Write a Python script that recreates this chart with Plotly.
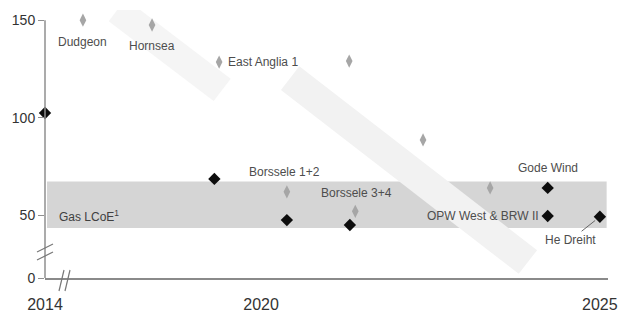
import plotly.graph_objects as go

# ---------------- data ----------------
# light grey diamonds (auction results / bids)
grey_years = [2017.37, 2018.39, 2019.38, 2021.30, 2022.39, 2020.38, 2021.39, 2023.38]
grey_values = [150, 147.5, 128.5, 129, 88.6, 62, 52, 64]
grey_labels = ["Dudgeon", "Hornsea", "East Anglia 1", "", "", "Borssele 1+2", "Borssele 3+4", ""]

# black diamonds
black_years = [2014, 2019.31, 2020.38, 2021.31, 2024.23, 2024.23, 2025.0]
black_values = [102.4, 68.6, 47.5, 45.0, 64.0, 49.6, 49.2]
black_labels = ["", "", "", "", "Gode Wind", "OPW West & BRW II", "He Dreiht"]

# gas LCoE band
gas_low = 43.4
gas_high = 67.3
gas_label = "Gas LCoE<sup>1</sup>"

# axes (broken axes: 2014 sits at the axis start, 0 sits at the bottom)
x_tick_years = [2014, 2020, 2025]
x_tick_text = ["2014", "2020", "2025"]
y_tick_values = [0, 50, 100, 150]
y_tick_text = ["0", "50", "100", "150"]

X_START = 2016.81   # where the broken x axis begins
X_END = 2025.12
Y_BOTTOM = 17.8     # where the broken y axis shows "0"
Y_TOP = 155.2


def x_axis(yr):
    return max(yr, X_START)


def y_axis(v):
    return max(v, Y_BOTTOM)


FONT = "Liberation Sans, Arial, sans-serif"

fig = go.Figure()

fig.add_trace(go.Scatter(
    x=[x_axis(v) for v in grey_years], y=grey_values, mode="markers",
    marker=dict(symbol="diamond-tall", size=9.5, color="#a6a6a6"),
    hoverinfo="skip", showlegend=False, cliponaxis=False))
fig.add_trace(go.Scatter(
    x=[x_axis(v) for v in black_years], y=black_values, mode="markers",
    marker=dict(symbol="diamond", size=9.5, color="#0d0d0d"),
    hoverinfo="skip", showlegend=False, cliponaxis=False))

W, H = 618, 320
ML, MR, MT, MB = 45, 10, 10, 42
PW, PH = W - ML - MR, H - MT - MB


def px(xp):
    return (xp - ML) / PW


def py(yp):
    return (H - MB - yp) / PH


shapes = []
# decorative downward-trend bands
shapes.append(dict(type="line", xref="x", yref="y", x0=2017.876, y0=155.2, x1=2019.425, y1=114.2,
                   line=dict(color="#f5f5f5", width=28), layer="below"))
# gas band
shapes.append(dict(type="rect", xref="x", yref="y", x0=X_START + 0.03, x1=2025.10,
                   y0=gas_low, y1=gas_high, fillcolor="#d5d5d5", line=dict(width=0), layer="below"))
shapes.append(dict(type="line", xref="x", yref="y", x0=2020.428, y0=120.3, x1=2023.938, y1=26.0,
                   line=dict(color="#f2f2f2", width=30), layer="below"))
# y axis line
shapes.append(dict(type="line", xref="paper", yref="y", x0=0, x1=0, y0=Y_BOTTOM, y1=150,
                   line=dict(color="#8f8f8f", width=1.5)))
# axis break marks
for (x0, y0, x1, y1) in [(37, 252, 53, 244), (37, 260, 53, 252),
                         (59, 291, 64, 270), (65, 291, 70, 270)]:
    shapes.append(dict(type="line", xref="paper", yref="paper",
                       x0=px(x0), y0=py(y0), x1=px(x1), y1=py(y1),
                       line=dict(color="#777777", width=1.2)))

ann = []
lab_font = dict(family=FONT, size=12, color="#4d4d4d")
grey_pos = {
    "Dudgeon": dict(xanchor="center", yanchor="middle", xshift=0, yshift=-22),
    "Hornsea": dict(xanchor="center", yanchor="middle", xshift=0, yshift=-21),
    "East Anglia 1": dict(xanchor="left", yanchor="middle", xshift=7, yshift=0),
    "Borssele 1+2": dict(xanchor="center", yanchor="middle", xshift=-2, yshift=20),
    "Borssele 3+4": dict(xanchor="center", yanchor="middle", xshift=1, yshift=18),
}
for yr, v, t in zip(grey_years, grey_values, grey_labels):
    if t:
        ann.append(dict(x=x_axis(yr), y=v, text=t, showarrow=False, font=lab_font, **grey_pos[t]))
black_pos = {
    "Gode Wind": dict(xanchor="center", yanchor="middle", xshift=0, yshift=20),
    "OPW West & BRW II": dict(xanchor="right", yanchor="middle", xshift=-7, yshift=0),
}
for yr, v, t in zip(black_years, black_values, black_labels):
    if t in black_pos:
        ann.append(dict(x=x_axis(yr), y=v, text=t, showarrow=False, font=lab_font, **black_pos[t]))
    elif t:
        ann.append(dict(x=x_axis(yr), y=v, text=t, showarrow=True, arrowhead=0,
                        arrowwidth=1, arrowcolor="#666666", ax=-29, ay=23, standoff=6,
                        font=lab_font))
ann.append(dict(xref="paper", yref="y", x=px(57), y=(gas_low + gas_high) / 2 - 5.6,
                xanchor="left", yanchor="middle", text=gas_label, showarrow=False,
                font=dict(family=FONT, size=12, color="#404040")))

fig.update_layout(
    width=W, height=H, margin=dict(l=ML, r=MR, t=MT, b=MB, autoexpand=False),
    paper_bgcolor="white", plot_bgcolor="white",
    shapes=shapes, annotations=ann,
    xaxis=dict(range=[X_START, X_END], showgrid=False, zeroline=False, automargin=False,
               showline=True, linecolor="#8a8a8a", linewidth=2,
               tickmode="array", tickvals=[x_axis(v) for v in x_tick_years], ticktext=x_tick_text,
               ticks="", ticklabelstandoff=11, ticklabeloverflow="allow",
               tickfont=dict(family=FONT, size=16, color="#333333")),
    yaxis=dict(range=[Y_BOTTOM, Y_TOP], showgrid=False, zeroline=False, showline=False,
               automargin=False,
               tickmode="array", tickvals=[y_axis(v) for v in y_tick_values], ticktext=y_tick_text,
               ticks="outside", ticklen=6, tickcolor="#8f8f8f", tickwidth=1,
               tickfont=dict(family=FONT, size=14, color="#333333")),
)

fig.write_html("out.html")
